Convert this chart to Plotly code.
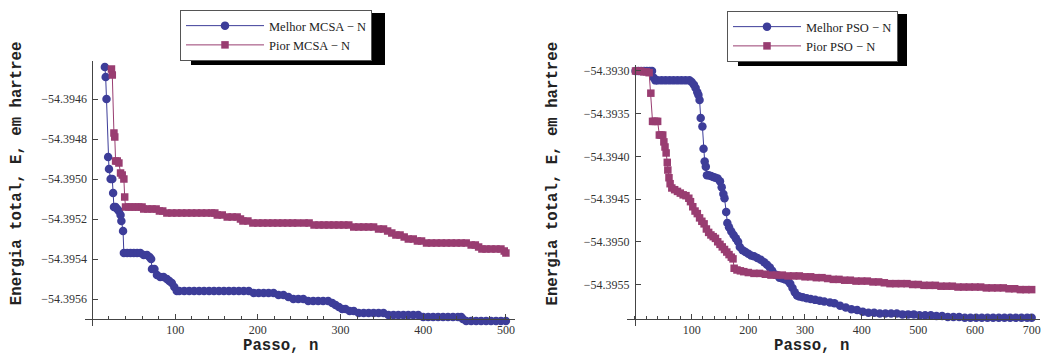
import plotly.graph_objects as go

# ---------------- data ----------------
mcsa_best = [
    (15, -54.39444), (16, -54.39449), (17, -54.39460), (19, -54.39489), (20, -54.39495),
    (22, -54.39500), (24, -54.39500), (25, -54.39507), (26, -54.39514), (28, -54.39514),
    (30, -54.39515), (32, -54.39516), (34, -54.39518), (35, -54.39521), (37, -54.39526),
    (38, -54.39537), (42, -54.39537), (46, -54.39537), (50, -54.39537), (54, -54.39537),
    (58, -54.39537), (62, -54.39538), (66, -54.39538), (69, -54.39539), (71, -54.39540),
    (72, -54.39545), (75, -54.39545), (78, -54.39548), (82, -54.39549), (86, -54.39549),
    (90, -54.39550), (93, -54.39551), (96, -54.39552), (99, -54.39554), (102, -54.39556),
    (105, -54.39556), (111, -54.39556), (117, -54.39556), (123, -54.39556), (129, -54.39556),
    (135, -54.39556), (141, -54.39556), (147, -54.39556), (153, -54.39556), (159, -54.39556),
    (165, -54.39556), (171, -54.39556), (177, -54.39556), (183, -54.39556), (189, -54.39556),
    (195, -54.39557), (201, -54.39557), (207, -54.39557), (213, -54.39557), (219, -54.39557),
    (225, -54.39558), (231, -54.39558), (237, -54.39559), (243, -54.39560), (249, -54.39560),
    (255, -54.39560), (261, -54.39561), (267, -54.39561), (273, -54.39561), (279, -54.39561),
    (285, -54.39561), (290, -54.39562), (294, -54.39563), (298, -54.39564), (302, -54.39565),
    (306, -54.39565), (311, -54.39566), (316, -54.39566), (322, -54.39567), (328, -54.39567),
    (334, -54.39567), (340, -54.39567), (346, -54.39567), (352, -54.39567), (358, -54.39568),
    (364, -54.39568), (370, -54.39568), (376, -54.39568), (382, -54.39568), (388, -54.39568),
    (394, -54.39568), (400, -54.39569), (406, -54.39569), (412, -54.39569), (418, -54.39569),
    (424, -54.39569), (430, -54.39569), (436, -54.39569), (442, -54.39569), (446, -54.39569),
    (448, -54.39570), (452, -54.39571), (458, -54.39571), (464, -54.39571), (470, -54.39571),
    (476, -54.39571), (482, -54.39571), (488, -54.39571), (494, -54.39571), (500, -54.39571),
]

mcsa_worst = [
    (23, -54.39445), (24, -54.39448), (26, -54.39477), (27, -54.39479), (28, -54.39491),
    (30, -54.39491), (32, -54.39492), (34, -54.39497), (36, -54.39498), (38, -54.39500),
    (39, -54.39509), (40, -54.39514), (44, -54.39514), (48, -54.39514), (52, -54.39514),
    (56, -54.39514), (60, -54.39514), (62, -54.39515), (67, -54.39515), (72, -54.39515),
    (77, -54.39515), (81, -54.39516), (85, -54.39516), (90, -54.39517), (96, -54.39517),
    (102, -54.39517), (108, -54.39517), (114, -54.39517), (120, -54.39517), (126, -54.39517),
    (132, -54.39517), (138, -54.39517), (144, -54.39517), (148, -54.39517), (151, -54.39518),
    (157, -54.39518), (163, -54.39519), (169, -54.39519), (175, -54.39519), (179, -54.39520),
    (182, -54.39521), (188, -54.39521), (194, -54.39522), (200, -54.39522), (206, -54.39522),
    (212, -54.39522), (218, -54.39522), (224, -54.39522), (230, -54.39522), (236, -54.39522),
    (242, -54.39522), (248, -54.39522), (256, -54.39522), (262, -54.39522), (268, -54.39523),
    (274, -54.39523), (280, -54.39523), (286, -54.39523), (292, -54.39523), (298, -54.39523),
    (304, -54.39523), (310, -54.39523), (316, -54.39524), (322, -54.39524), (328, -54.39524),
    (334, -54.39524), (340, -54.39524), (346, -54.39525), (352, -54.39525), (357, -54.39526),
    (362, -54.39527), (367, -54.39528), (372, -54.39528), (377, -54.39529), (382, -54.39530),
    (388, -54.39530), (393, -54.39531), (398, -54.39531), (404, -54.39532), (410, -54.39532),
    (416, -54.39532), (422, -54.39532), (428, -54.39532), (434, -54.39532), (440, -54.39532),
    (446, -54.39532), (452, -54.39532), (458, -54.39533), (463, -54.39533), (467, -54.39534),
    (471, -54.39535), (476, -54.39535), (482, -54.39535), (488, -54.39535), (494, -54.39535),
    (498, -54.39536), (500, -54.39537),
]

pso_best = [
    (1, -54.39300), (6, -54.39300), (11, -54.39300), (16, -54.39300), (21, -54.39300),
    (26, -54.39300), (30, -54.39300), (33, -54.39308), (36, -54.39311), (40, -54.39311),
    (47, -54.39311), (54, -54.39311), (61, -54.39311), (68, -54.39311), (75, -54.39311),
    (82, -54.39311), (89, -54.39311), (96, -54.39311), (100, -54.39313), (104, -54.39316),
    (107, -54.39320), (110, -54.39325), (112, -54.39328), (114, -54.39334), (116, -54.39355),
    (119, -54.39365), (121, -54.39391), (123, -54.39406), (125, -54.39412), (127, -54.39422),
    (130, -54.39422), (134, -54.39423), (138, -54.39424), (142, -54.39425), (146, -54.39426),
    (150, -54.39429), (153, -54.39436), (156, -54.39444), (158, -54.39449), (161, -54.39465),
    (163, -54.39478), (166, -54.39483), (170, -54.39488), (174, -54.39492), (178, -54.39496),
    (182, -54.39500), (185, -54.39506), (190, -54.39510), (195, -54.39512), (200, -54.39514),
    (205, -54.39516), (210, -54.39517), (216, -54.39519), (222, -54.39521), (228, -54.39524),
    (233, -54.39527), (238, -54.39530), (242, -54.39534), (246, -54.39538), (250, -54.39539),
    (255, -54.39542), (260, -54.39543), (265, -54.39544), (270, -54.39546), (274, -54.39549),
    (278, -54.39554), (282, -54.39559), (286, -54.39563), (290, -54.39564), (296, -54.39565),
    (303, -54.39566), (310, -54.39567), (318, -54.39568), (326, -54.39569), (334, -54.39570),
    (344, -54.39571), (352, -54.39572), (362, -54.39575), (372, -54.39577), (382, -54.39579),
    (392, -54.39580), (402, -54.39582), (412, -54.39583), (422, -54.39583), (432, -54.39584),
    (442, -54.39584), (452, -54.39584), (462, -54.39584), (472, -54.39585), (482, -54.39585),
    (492, -54.39585), (502, -54.39586), (512, -54.39586), (522, -54.39586), (532, -54.39587),
    (542, -54.39587), (552, -54.39588), (562, -54.39588), (572, -54.39588), (582, -54.39589),
    (592, -54.39589), (602, -54.39589), (612, -54.39589), (622, -54.39589), (632, -54.39589),
    (642, -54.39589), (652, -54.39589), (662, -54.39589), (672, -54.39589), (682, -54.39589),
    (692, -54.39589), (700, -54.39589),
]

pso_worst = [
    (1, -54.39300), (5, -54.39300), (10, -54.39300), (15, -54.39301), (20, -54.39301),
    (25, -54.39302), (28, -54.39326), (31, -54.39359), (34, -54.39359), (37, -54.39359),
    (40, -54.39359), (43, -54.39375), (46, -54.39375), (49, -54.39375), (51, -54.39383),
    (53, -54.39389), (55, -54.39396), (57, -54.39407), (58, -54.39416), (60, -54.39425),
    (62, -54.39432), (65, -54.39437), (70, -54.39439), (75, -54.39441), (80, -54.39443),
    (85, -54.39445), (90, -54.39446), (95, -54.39449), (98, -54.39453), (102, -54.39459),
    (106, -54.39464), (110, -54.39467), (114, -54.39472), (118, -54.39476), (122, -54.39479),
    (126, -54.39485), (130, -54.39489), (134, -54.39492), (138, -54.39494), (142, -54.39496),
    (146, -54.39500), (150, -54.39503), (154, -54.39506), (158, -54.39509), (162, -54.39512),
    (166, -54.39515), (170, -54.39518), (173, -54.39520), (175, -54.39531), (180, -54.39533),
    (186, -54.39534), (192, -54.39535), (200, -54.39536), (210, -54.39537), (220, -54.39537),
    (230, -54.39538), (240, -54.39539), (250, -54.39539), (260, -54.39539), (270, -54.39540),
    (280, -54.39540), (290, -54.39540), (300, -54.39541), (310, -54.39541), (320, -54.39542),
    (330, -54.39542), (340, -54.39543), (350, -54.39544), (360, -54.39544), (370, -54.39545),
    (380, -54.39545), (390, -54.39546), (400, -54.39546), (410, -54.39546), (420, -54.39547),
    (430, -54.39547), (440, -54.39548), (450, -54.39549), (460, -54.39549), (470, -54.39549),
    (480, -54.39549), (490, -54.39550), (500, -54.39550), (510, -54.39551), (520, -54.39551),
    (530, -54.39551), (540, -54.39552), (550, -54.39552), (560, -54.39552), (570, -54.39553),
    (580, -54.39553), (590, -54.39553), (600, -54.39553), (610, -54.39553), (620, -54.39554),
    (630, -54.39554), (640, -54.39554), (650, -54.39554), (660, -54.39555), (670, -54.39555),
    (680, -54.39556), (690, -54.39556), (700, -54.39556),
]

left_xticks = [100, 200, 300, 400, 500]
left_yticks = [-54.3956, -54.3954, -54.3952, -54.3950, -54.3948, -54.3946]
right_xticks = [100, 200, 300, 400, 500, 600, 700]
right_yticks = [-54.3955, -54.3950, -54.3945, -54.3940, -54.3935, -54.3930]

names = ["Melhor MCSA − N", "Pior MCSA − N", "Melhor PSO − N", "Pior PSO − N"]
x_title = "Passo, n"
y_title = "Energia total, E, em hartree"

# ---------------- layout geometry ----------------
# The page has an 8px body margin, so the figure is 8px smaller than the window.
OFF = 8
W, H = 1050 - OFF, 354 - OFF
PLOT_BOTTOM = 326                      # page px of the plotting-area bottom
PLOT_H = PLOT_BOTTOM - OFF             # figure px height of plotting area


def px(xp):   # page x px -> paper x
    return (xp - OFF) / W


def py(yp):   # page y px -> paper y
    return (PLOT_BOTTOM - yp) / PLOT_H


BLUE = "#3d3d99"
PINK = "#993d71"

LX_RANGE = [-9, 511]
LY_RANGE = [-54.395735, -54.39441]
RX_RANGE = [-14.6, 714.7]
RY_RANGE = [-54.395986, -54.39293]
LX_DOM = [px(85), px(515)]
RX_DOM = [px(626.7), px(1040)]
LY_DOM = [0, py(61)]
RY_DOM = [0, py(65)]
XAXIS_POS = py(319)


def zero_pos(rng, dom):
    return dom[0] + (0 - rng[0]) / (rng[1] - rng[0]) * (dom[1] - dom[0])


def unzip(pts):
    return [p[0] for p in pts], [p[1] for p in pts]


fig = go.Figure()
series = [
    (mcsa_best, names[0], BLUE, "circle", 8.5, "x", "y", "legend"),
    (mcsa_worst, names[1], PINK, "square", 7.5, "x", "y", "legend"),
    (pso_best, names[2], BLUE, "circle", 8.5, "x2", "y2", "legend2"),
    (pso_worst, names[3], PINK, "square", 7.5, "x2", "y2", "legend2"),
]
for pts, name, col, sym, size, xa, ya, lg in series:
    xs, ys = unzip(pts)
    fig.add_trace(go.Scatter(
        x=xs, y=ys, name=name, mode="lines+markers",
        line=dict(color=col, width=1),
        marker=dict(symbol=sym, size=size, color=col, line=dict(width=0)),
        xaxis=xa, yaxis=ya, legend=lg, cliponaxis=False,
    ))

AX_COL = "#444444"
tickfont = dict(family="Liberation Serif", size=12, color="#333333")
axis_common = dict(
    showline=True, linecolor=AX_COL, linewidth=1, showgrid=False, zeroline=False,
    ticks="inside", ticklen=5, tickcolor=AX_COL, tickfont=tickfont, fixedrange=True,
)
minor = dict(dtick=20, tick0=0, ticks="inside", ticklen=3, tickcolor=AX_COL)

legend_font = dict(family="Liberation Serif", size=12.5, color="#222222")
fig.update_layout(
    width=W, height=H,
    margin=dict(l=0, r=0, t=0, b=H - PLOT_H, pad=0),
    paper_bgcolor="white", plot_bgcolor="white",
    xaxis=dict(domain=LX_DOM, range=LX_RANGE, anchor="free", position=XAXIS_POS,
               tickmode="array", tickvals=left_xticks, minor=minor, **axis_common),
    yaxis=dict(domain=LY_DOM, range=LY_RANGE, anchor="free", position=zero_pos(LX_RANGE, LX_DOM),
               tickmode="array", tickvals=left_yticks, tickformat=".4f",
               ticklabelstandoff=3, **axis_common),
    xaxis2=dict(domain=RX_DOM, range=RX_RANGE, anchor="free", position=XAXIS_POS,
                tickmode="array", tickvals=right_xticks, minor=minor, **axis_common),
    yaxis2=dict(domain=RY_DOM, range=RY_RANGE, anchor="free", position=zero_pos(RX_RANGE, RX_DOM),
                tickmode="array", tickvals=right_yticks, tickformat=".4f",
                ticklabelstandoff=3, **axis_common),
    legend=dict(x=px(180), y=py(10), xanchor="left", yanchor="top",
                bgcolor="white", bordercolor="#555555", borderwidth=1, itemwidth=78,
                font=legend_font, tracegroupgap=0),
    legend2=dict(x=px(727), y=py(11), xanchor="left", yanchor="top",
                 bgcolor="white", bordercolor="#555555", borderwidth=1, itemwidth=68,
                 font=legend_font, tracegroupgap=0),
    showlegend=True,
)

title_font = dict(family="Liberation Mono", size=15.7, color="#222222", weight="bold")
for xc in (17.7, 553.0):
    fig.add_annotation(text=y_title, x=px(xc), y=py(173.5), xref="paper", yref="paper",
                       textangle=-90, showarrow=False, font=title_font,
                       xanchor="center", yanchor="middle")
for xc in (280.0, 811.7):
    fig.add_annotation(text=x_title, x=px(xc), y=py(335), xref="paper", yref="paper",
                       showarrow=False, font=title_font, xanchor="center", yanchor="top")

# legend drop shadows (page px boxes)
for x0, x1, y0, y1 in ((191, 385, 13, 65), (738, 907, 14, 66)):
    fig.add_shape(type="rect", xref="paper", yref="paper",
                  x0=px(x0), x1=px(x1), y0=py(y1), y1=py(y0),
                  fillcolor="black", line=dict(width=0), layer="above")

fig.write_html("out.html")
